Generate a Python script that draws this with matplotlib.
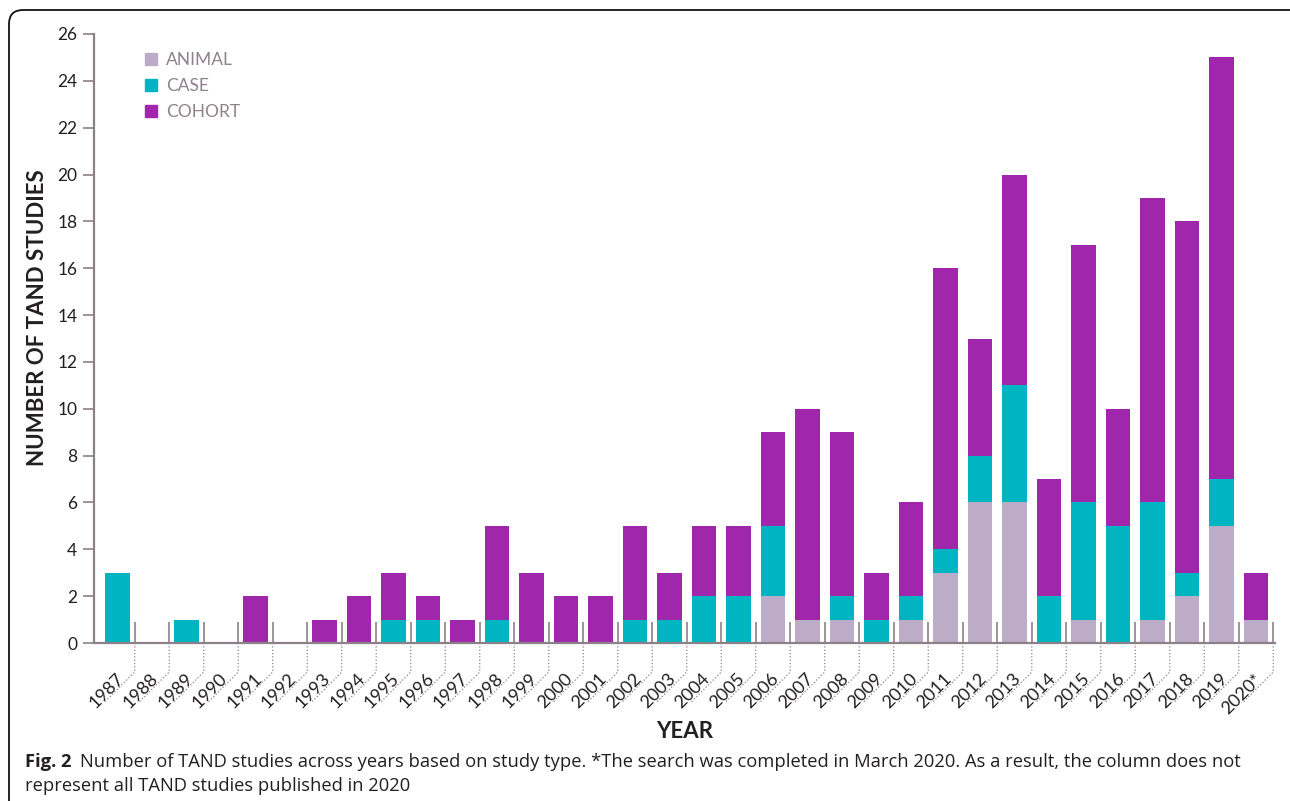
import matplotlib
matplotlib.use("Agg")
import matplotlib.pyplot as plt
import numpy as np
from matplotlib import font_manager
from matplotlib.lines import Line2D
from matplotlib.patches import FancyBboxPatch, Patch
from matplotlib.transforms import IdentityTransform

# data
years = ["1987", "1988", "1989", "1990", "1991", "1992", "1993", "1994", "1995",
         "1996", "1997", "1998", "1999", "2000", "2001", "2002", "2003", "2004",
         "2005", "2006", "2007", "2008", "2009", "2010", "2011", "2012", "2013",
         "2014", "2015", "2016", "2017", "2018", "2019", "2020*"]
animal = [0, 0, 0, 0, 0, 0, 0, 0, 0, 0, 0, 0, 0, 0, 0, 0, 0, 0,
          0, 2, 1, 1, 0, 1, 3, 6, 6, 0, 1, 0, 1, 2, 5, 1]
case = [3, 0, 1, 0, 0, 0, 0, 0, 1, 1, 0, 1, 0, 0, 0, 1, 1, 2,
        2, 3, 0, 1, 1, 1, 1, 2, 5, 2, 5, 5, 5, 1, 2, 0]
cohort = [0, 0, 0, 0, 2, 0, 1, 2, 2, 1, 1, 4, 3, 2, 2, 4, 2, 3,
          3, 4, 9, 7, 2, 4, 12, 5, 9, 5, 11, 5, 13, 15, 18, 2]
series_names = ["ANIMAL", "CASE", "COHORT"]
y_ticks = list(range(0, 27, 2))

ANIMAL_C = "#bdacc8"
CASE_C = "#00b4c1"
COHORT_C = "#a027ac"
AXIS_C = "#8c8189"
TEXT_C = "#231f20"
LEGEND_TEXT_C = "#8f8189"

available = {f.name for f in font_manager.fontManager.ttflist}


def pick(*names):
    for n in names:
        if n in available:
            return n
    return "DejaVu Sans"


main_font = pick("Lato", "Open Sans", "Noto Sans")
caption_font = pick("Liberation Sans Narrow", "Open Sans", "Noto Sans")
plt.rcParams["font.family"] = [main_font, "DejaVu Sans"]

W, H = 1290, 801
fig = plt.figure(figsize=(W / 100, H / 100), dpi=100)
ax = fig.add_axes([94 / W, 1 - 643 / H, (1275 - 94) / W, (643 - 34) / H])

x = np.arange(len(years))
bw = 0.72
ax.bar(x, animal, bw, color=ANIMAL_C, linewidth=0)
ax.bar(x, case, bw, bottom=animal, color=CASE_C, linewidth=0)
ax.bar(x, cohort, bw, bottom=np.add(animal, case), color=COHORT_C, linewidth=0)

ax.set_xlim(-0.68, len(years) - 1 + 0.55)
ax.set_ylim(0, 26)
ax.set_yticks(y_ticks)
ax.tick_params(axis="y", direction="out", length=8, width=1.2, color=AXIS_C,
               labelsize=12.5, labelcolor=TEXT_C, pad=4)
ax.set_xticks(x + 0.5)
ax.tick_params(axis="x", direction="in", length=15, width=1.2, color=AXIS_C,
               labelbottom=False)
for s in ("top", "right"):
    ax.spines[s].set_visible(False)
for s in ("left", "bottom"):
    ax.spines[s].set_color(AXIS_C)
    ax.spines[s].set_linewidth(1.6)

handles = [Patch(color=c) for c in (ANIMAL_C, CASE_C, COHORT_C)]
leg = ax.legend(handles, series_names, loc="upper left", bbox_to_anchor=(0.037, 0.982),
                frameon=False, fontsize=12.5, handlelength=0.72, handleheight=0.72,
                handletextpad=0.5, labelspacing=0.58, borderaxespad=0)
for t in leg.get_texts():
    t.set_color(LEGEND_TEXT_C)

# dotted leaders and slanted year labels
for i, lab in enumerate(years):
    bx, by = ax.transData.transform((i + 0.5, 0))
    fig.add_artist(Line2D([bx, bx, bx - 31], [by, by - 29, by - 60],
                          transform=IdentityTransform(), linestyle=":",
                          linewidth=0.9, color=AXIS_C))
    fig.text(bx - 8, by - 39, lab, transform=IdentityTransform(), rotation=45,
             rotation_mode="anchor", ha="right", va="bottom", fontsize=13,
             color=TEXT_C)

fig.text(38 / W, 1 - 318 / H, "NUMBER OF TAND STUDIES", rotation=90, ha="center",
         va="center", fontsize=16, fontweight="bold", color=TEXT_C)
fig.text(685 / W, 1 - 731 / H, "YEAR", ha="center", va="center", fontsize=16,
         fontweight="bold", color=TEXT_C)

# caption
renderer = fig.canvas.get_renderer()
fig_lab = fig.text(25, H - 767, "Fig. 2", transform=IdentityTransform(),
                   fontsize=13.2, fontweight="bold", color=TEXT_C, family=caption_font)
ext = fig_lab.get_window_extent(renderer)
fig.text(ext.x1 + 9, H - 767,
         "Number of TAND studies across years based on study type. *The search was "
         "completed in March 2020. As a result, the column does not",
         transform=IdentityTransform(), fontsize=13.2, color=TEXT_C, family=caption_font)
fig.text(25, H - 791, "represent all TAND studies published in 2020",
         transform=IdentityTransform(), fontsize=13.2, color=TEXT_C, family=caption_font)

# rounded frame
fig.add_artist(FancyBboxPatch((9, -60), 1300, H - 10 + 60,
                              boxstyle="round,pad=0,rounding_size=14",
                              transform=IdentityTransform(), fill=False,
                              edgecolor="#111111", linewidth=1.3))

fig.savefig("out.png", dpi=100)
